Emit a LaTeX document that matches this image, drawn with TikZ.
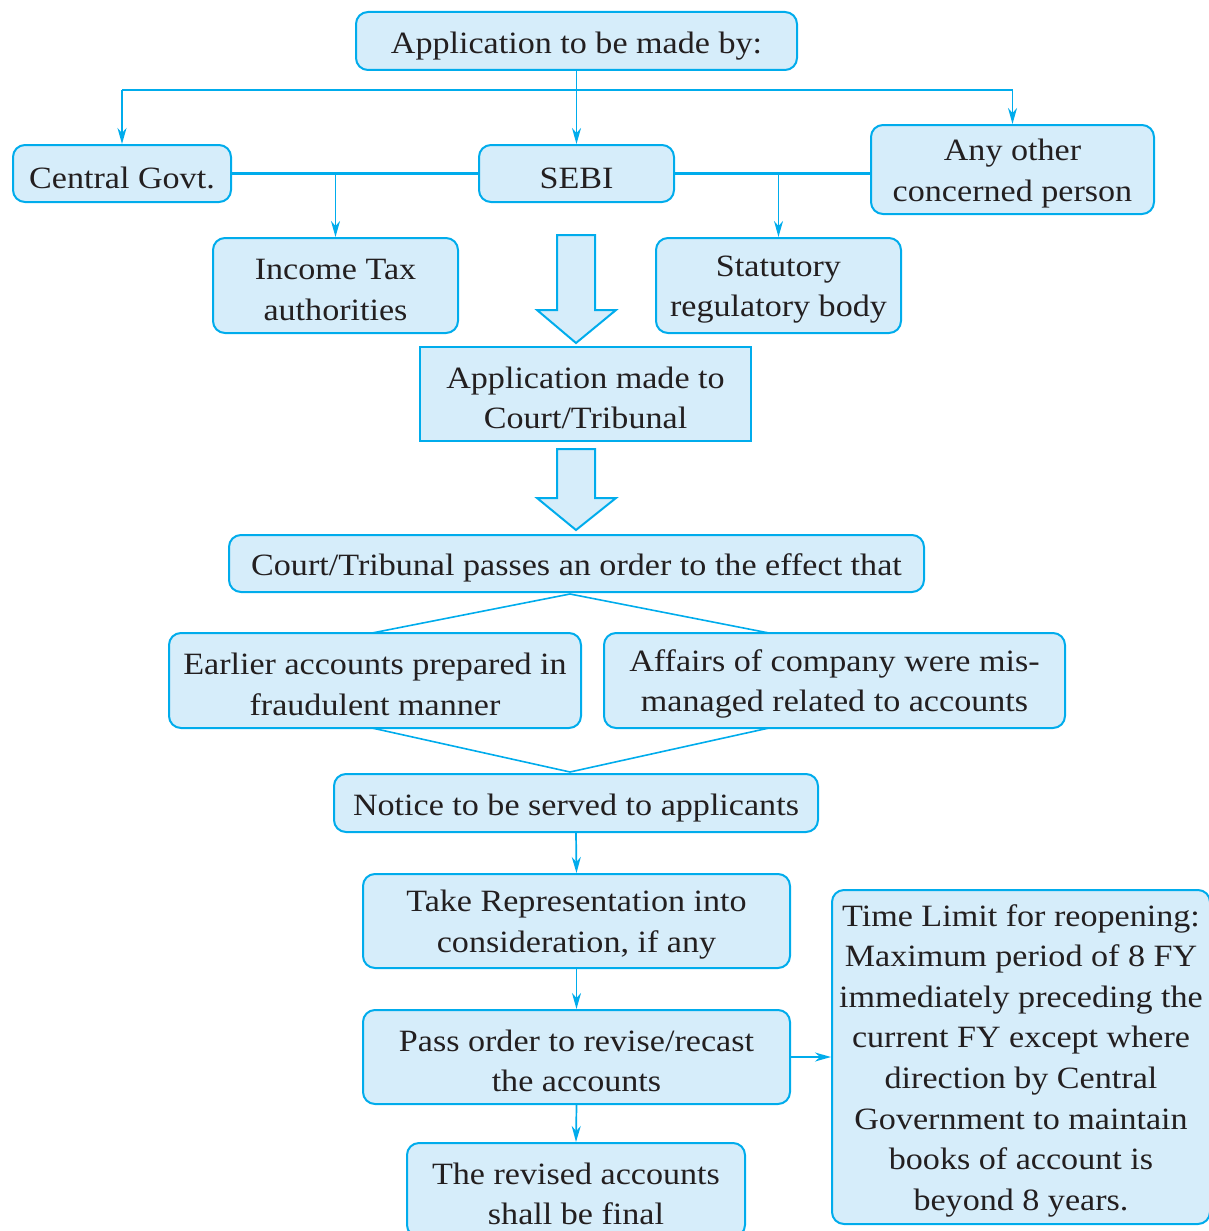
\documentclass[tikz,border=0pt]{standalone}
\usepackage{fontspec}
\setmainfont{Liberation Serif}[FakeStretch=1.1]
\usetikzlibrary{arrows.meta,calc}
\definecolor{lc}{RGB}{0,172,236}
\definecolor{fc}{RGB}{214,237,250}
\definecolor{tc}{RGB}{35,31,32}
\newcommand{\fst}{\rule{0pt}{29pt}}
\tikzset{
  x=1pt,y=-1pt,
  box/.style={draw=lc, fill=fc, line width=2pt, rounded corners=12pt, inner sep=0pt,
    align=center, text=tc, font=\fontsize{31}{40.6}\selectfont},
  sbox/.style={box, rounded corners=0pt},
  one/.style={execute at begin node={\rule{0pt}{31pt}}},
  conn/.style={draw=lc, line width=2.2pt},
  arr/.style={conn, line width=1.7pt, -{Stealth[length=16pt,width=9pt,inset=5pt]}},
  blk/.style={draw=lc, fill=fc, line width=2pt, line join=miter},
}
\newcommand{\blockarrow}[4]{% x, ytop, yshaft, ytip
  \draw[blk] (#1-19,#2) -- (#1+19,#2) -- (#1+19,#3) -- (#1+40,#3) -- (#1,#4) -- (#1-39,#3) -- (#1-19,#3) -- cycle;}
\begin{document}
\begin{tikzpicture}
\useasboundingbox (0,0) rectangle (1208,1231);
% boxes
\node[box, one, minimum width=441pt, minimum height=58pt] (top) at (576.5,41) {Application to be made by:};
\node[box, one, minimum width=218pt, minimum height=57pt] (cg) at (122,173.5) {Central Govt.};
\node[box, one, minimum width=195pt, minimum height=57pt] (sebi) at (576.5,173.5) {SEBI};
\node[box, minimum width=283pt, minimum height=89pt] (any) at (1012.5,169.5) {\fst Any other\\concerned person};
\node[box, minimum width=245pt, minimum height=95pt] (itax) at (335.5,285.5) {\fst Income Tax\\authorities};
\node[box, minimum width=245pt, minimum height=95pt] (stat) at (778.5,285.5) {\fst Statutory\\regulatory body};
\node[sbox, minimum width=331pt, minimum height=94pt] (app) at (585.5,394) {\fst Application made to\\Court/Tribunal};
\node[box, one, minimum width=695pt, minimum height=57pt] (court) at (576.5,563.5) {Court/Tribunal passes an order to the effect that};
\node[box, minimum width=412pt, minimum height=95pt] (earl) at (375,680.5) {\fst Earlier accounts prepared in\\fraudulent manner};
\node[box, minimum width=461pt, minimum height=95pt] (aff) at (834.5,680.5) {\fst Affairs of company were mis-\\managed related to accounts};
\node[box, one, minimum width=484pt, minimum height=58pt] (notice) at (576,803) {Notice to be served to applicants};
\node[box, minimum width=427pt, minimum height=94pt] (take) at (576.5,921) {\fst Take Representation into\\consideration, if any};
\node[box, minimum width=427pt, minimum height=94pt] (pass) at (576.5,1057) {\fst Pass order to revise/recast\\the accounts};
\node[box, minimum width=338pt, minimum height=94pt] (rev) at (576,1190) {\fst The revised accounts\\shall be final};
\node[box, minimum width=378pt, minimum height=334pt] (time) at (1021,1057) {\fst Time Limit for reopening:\\Maximum period of 8 FY\\immediately preceding the\\current FY except where\\direction by Central\\Government to maintain\\books of account is\\beyond 8 years.};
% top connectors
\coordinate (bus) at (576,90);
\draw[arr] (top.south) -- (sebi.north);
\draw[conn] (bus -| cg.north) -- (bus -| any.north);
\draw[arr] (bus -| cg.north) -- (cg.north);
\draw[arr] (bus -| any.north) -- (any.north);
\draw[conn] (cg.east) -- (sebi.west);
\draw[conn] (sebi.east) -- (sebi.east -| any.west);
\draw[arr] (cg.east -| itax.north) -- (itax.north);
\draw[arr] (sebi.east -| stat.north) -- (stat.north);
% block arrows
\blockarrow{576}{235}{310}{343}
\blockarrow{576}{449}{498}{530}
% V lines
\coordinate (apexA) at (570,594);
\coordinate (apexB) at (570,772);
\coordinate (earlN) at (372,633);
\coordinate (earlS) at (372,728);
\coordinate (affN) at (769,633);
\coordinate (affS) at (769,728);
\draw[conn, line width=1.6pt] (earlN) -- (apexA) -- (affN);
\draw[conn, line width=1.6pt] (earlS) -- (apexB) -- (affS);
% lower arrows
\draw[arr] (notice.south) -- (take.north);
\draw[arr] (take.south) -- (pass.north);
\draw[arr] (pass.south) -- (rev.north);
\draw[arr] (pass.east) -- (time.west);
\end{tikzpicture}
\end{document}
